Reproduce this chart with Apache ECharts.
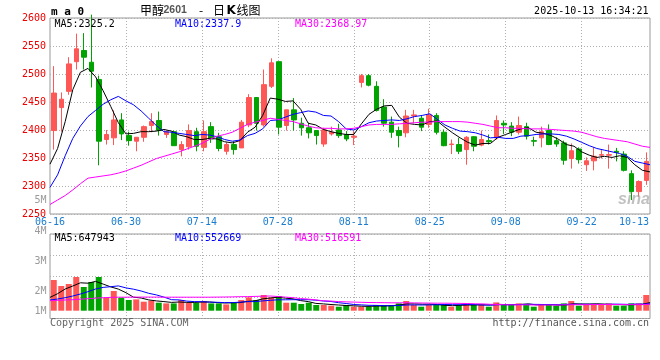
<!DOCTYPE html>
<html><head><meta charset="utf-8">
<script src="https://cdn.jsdelivr.net/npm/echarts@6/dist/echarts.min.js"></script>
<style>html,body{margin:0;padding:0;background:#fff}#c{width:660px;height:360px}</style>
</head><body><div id="c"></div>
<script>
const dates = ['06-16','06-17','06-18','06-19','06-20','06-23','06-24','06-25','06-26','06-27',
'06-30','07-01','07-02','07-03','07-04','07-07','07-08','07-09','07-10','07-11',
'07-14','07-15','07-16','07-17','07-18','07-21','07-22','07-23','07-24','07-25',
'07-28','07-29','07-30','07-31','08-01','08-04','08-05','08-06','08-07','08-08',
'08-11','08-12','08-13','08-14','08-15','08-18','08-19','08-20','08-21','08-22',
'08-25','08-26','08-27','08-28','08-29','09-01','09-02','09-03','09-04','09-05',
'09-08','09-09','09-10','09-11','09-12','09-15','09-16','09-17','09-18','09-19',
'09-22','09-23','09-24','09-25','09-26','09-29','09-30','10-09','10-10','10-13'];
const openP = [2399,2440,2469,2522,2542,2521,2490,2383,2386,2418,
2390,2380,2387,2408,2417,2392,2397,2365,2370,2397,
2369,2406,2388,2362,2374,2368,2409,2458,2409,2478,
2522,2408,2436,2412,2404,2399,2375,2393,2400,2392,
2387,2485,2497,2478,2441,2414,2399,2395,2425,2421,
2410,2426,2396,2374,2374,2365,2388,2373,2381,2386,
2412,2407,2396,2406,2381,2386,2399,2381,2377,2349,
2366,2338,2345,2355,2355,2362,2357,2322,2290,2310];
const closeP = [2466,2455,2518,2545,2530,2505,2380,2392,2418,2393,
2381,2387,2406,2415,2399,2397,2372,2374,2399,2371,
2397,2384,2367,2374,2365,2414,2458,2412,2481,2520,
2405,2436,2418,2404,2395,2390,2400,2396,2390,2384,
2389,2497,2480,2435,2412,2396,2390,2425,2427,2405,
2427,2396,2372,2375,2362,2387,2371,2383,2379,2417,
2409,2396,2408,2389,2380,2397,2374,2375,2346,2363,
2347,2345,2353,2356,2356,2360,2328,2290,2308,2344];
const lowP = [2365,2397,2463,2508,2508,2476,2337,2374,2373,2382,
2372,2362,2379,2396,2390,2386,2372,2353,2365,2362,
2362,2377,2362,2356,2356,2368,2405,2399,2406,2475,
2392,2399,2399,2390,2385,2374,2370,2390,2386,2380,
2373,2476,2478,2433,2406,2386,2369,2387,2412,2398,
2404,2392,2371,2357,2357,2338,2362,2371,2374,2383,
2393,2389,2392,2383,2371,2369,2373,2370,2338,2331,
2340,2327,2328,2349,2331,2344,2326,2275,2281,2302];
const highP = [2514,2467,2530,2572,2573,2606,2497,2400,2435,2430,
2397,2387,2408,2430,2433,2399,2399,2380,2410,2404,
2417,2414,2395,2378,2380,2418,2464,2458,2508,2528,
2522,2436,2457,2422,2413,2400,2404,2406,2411,2398,
2398,2500,2500,2487,2455,2424,2406,2436,2436,2426,
2438,2430,2401,2383,2386,2389,2389,2399,2392,2426,
2417,2414,2424,2413,2388,2406,2410,2387,2381,2376,
2369,2351,2369,2364,2374,2368,2362,2328,2310,2360];
const ma5 = [2339,2367,2415,2472,2503,2510,2495,2470,2442,2413,
2393,2394,2397,2397,2398,2401,2398,2391,2388,2383,
2383,2385,2384,2379,2377,2381,2396,2405,2426,2457,
2455,2451,2452,2437,2412,2409,2401,2397,2394,2392,
2392,2411,2428,2437,2443,2444,2423,2412,2410,2409,
2415,2416,2405,2395,2386,2378,2373,2376,2376,2387,
2392,2397,2402,2404,2396,2394,2390,2383,2374,2371,
2361,2355,2351,2353,2351,2354,2351,2338,2328,2325.2];
const ma10 = [2297.5,2320,2354,2385,2407,2424,2435,2446,2454,2460,
2452,2445,2434,2421,2408,2397,2396,2394,2392,2390,
2392,2391,2388,2383,2380,2382,2390,2394,2402,2417,
2418,2423,2428,2431,2434,2432,2426,2425,2415,2402,
2400,2406,2413,2416,2417,2418,2417,2420,2424,2426,
2429,2419,2409,2403,2398,2397,2395,2391,2386,2387,
2385,2385,2389,2390,2392,2393,2393,2392,2389,2384,
2378,2372,2367,2364,2361,2358,2353,2344,2341,2337.9];
const ma30 = [2267,2275,2283,2293,2304,2314,2316,2318,2320,2323,
2327,2332,2337,2343,2349,2353,2357,2361,2366,2371,
2376,2383,2389,2392,2396,2403,2410,2414,2417,2421,
2419,2417,2415,2411,2407,2404,2403,2403,2402,2402,
2403,2406,2409,2410,2410,2410,2411,2412,2413,2414,
2414,2415,2415,2415,2415,2414,2412,2410,2407,2404,
2404,2403,2403,2402,2402,2402,2401,2400,2399,2398,
2396,2392,2388,2385,2383,2381,2379,2375,2371,2368.97];
const volume = [2456000,1976000,2136000,2696000,1896000,2296000,2696000,1040000,1576000,1040000,
856000,904000,720000,800000,640000,584000,584000,856000,640000,640000,
776000,584000,584000,504000,696000,856000,1064000,856000,1256000,1064000,
1176000,640000,640000,536000,640000,456000,456000,400000,320000,456000,
320000,320000,320000,456000,456000,456000,584000,776000,456000,320000,
456000,456000,456000,320000,456000,584000,504000,504000,320000,664000,
456000,504000,584000,504000,320000,504000,504000,400000,584000,776000,
400000,504000,504000,456000,584000,400000,400000,584000,584000,1256000];
const volMa5 = [1064000,1360000,1736000,1976000,2232000,2200000,2344000,2128000,1904000,1728000,
1440000,1080000,1016000,864000,784000,728000,664000,696000,664000,664000,
696000,696000,648000,616000,632000,648000,744000,792000,944000,1016000,
1080000,1000000,952000,808000,728000,584000,544000,496000,456000,416000,
392000,360000,344000,376000,376000,400000,456000,544000,544000,520000,
520000,496000,432000,400000,432000,456000,464000,472000,472000,512000,
488000,488000,504000,544000,472000,480000,480000,448000,464000,552000,
536000,536000,552000,528000,488000,488000,472000,488000,512000,647943];
const volMa10 = [856000,936000,1040000,1176000,1336000,1520000,1736000,1864000,1920000,1984000,
1824000,1720000,1576000,1392000,1264000,1088000,880000,864000,768000,728000,
720000,688000,672000,648000,648000,680000,728000,728000,784000,832000,
872000,872000,880000,880000,880000,840000,776000,736000,640000,576000,
496000,464000,432000,424000,400000,400000,416000,456000,464000,456000,
464000,480000,496000,480000,480000,496000,488000,456000,440000,480000,
480000,480000,496000,512000,504000,496000,496000,480000,512000,520000,
512000,512000,504000,504000,528000,520000,504000,528000,528000,552669];
const volMa30 = [800000,824000,856000,880000,920000,960000,1000000,1040000,1064000,1080000,
1080000,1088000,1088000,1088000,1088000,1080000,1080000,1080000,1080000,1080000,
1080000,1080000,1088000,1096000,1104000,1120000,1128000,1144000,1160000,1176000,
1136000,1088000,1040000,968000,928000,864000,792000,768000,728000,708000,
688000,672000,656000,648000,640000,632000,632000,632000,624000,616000,
608000,600000,600000,592000,584000,576000,552000,544000,512000,496000,
472000,472000,472000,464000,456000,456000,456000,456000,472000,480000,
480000,488000,496000,496000,496000,496000,488000,484000,488000,516591];
const dateTickIdx = [0,10,20,30,40,50,60,70,79];
const volTickLabels = ['5M','4M','3M','2M','1M'];
const titleParts = ['甲醇','2601','-','日','K','线图'];
const stamp = '2025-10-13 16:34:21';

const chart = echarts.init(document.getElementById('c'), null, {renderer:'canvas', width:660, height:360});
const MONO = '"DejaVu Sans Mono", monospace';
const UP = '#ff5656', DOWN = '#00a300';
const last = a => a[a.length - 1];
const candleData = dates.map((d, i) => [openP[i], closeP[i], lowP[i], highP[i]]);
const volData = volume.map((v, i) => ({value: v, itemStyle: {color: closeP[i] >= openP[i] ? UP : DOWN}}));
const dotted = {color: '#b0b0b0', type: [1, 2], width: 1};
const inner = i => i % 10 === 0 && i > 0 && i < dates.length - 1;

const T = (text, x, y, fill, font, align) => ({
  type: 'text', silent: true, z: 100,
  style: {text, x, y, fill, font, align: align || 'left', verticalAlign: 'middle',
          textAlign: align || 'left', textVerticalAlign: 'middle'}
});
const CJK = '"Noto Sans CJK SC"';
const volLabelY = [200, 231, 261, 291, 311];

const graphics = [
  T('m a 0', 51, 12, '#000', 'bold 11px ' + MONO),
  T(titleParts[0], 140, 10.5, '#000', '12px ' + CJK),
  T(titleParts[1], 163.5, 10.5, '#555', 'bold 10.5px "Liberation Sans"'),
  T(titleParts[2], 199, 10.5, '#000', '12px ' + CJK),
  T(titleParts[3], 213, 10.5, '#000', '12px ' + CJK),
  T(titleParts[4], 226.5, 10.5, '#000', 'bold 12px "DejaVu Sans"'),
  T(titleParts[5], 236.5, 10.5, '#000', '12px ' + CJK),
  T(stamp, 648.5, 11.5, '#000', '10px ' + MONO, 'right'),
  T('MA5:' + last(ma5), 54.5, 24, '#000', '10px ' + MONO),
  T('MA10:' + last(ma10), 175, 24, '#0000ff', '10px ' + MONO),
  T('MA30:' + last(ma30), 295, 24, '#ff00ff', '10px ' + MONO),
  T('MA5:' + last(volMa5), 54.5, 238.5, '#000', '10px ' + MONO),
  T('MA10:' + last(volMa10), 175, 238.5, '#0000ff', '10px ' + MONO),
  T('MA30:' + last(volMa30), 295, 238.5, '#ff00ff', '10px ' + MONO),
  T('Copyright 2025 SINA.COM', 50, 323, '#666', '10px ' + MONO),
  T('http://finance.sina.com.cn', 649, 323, '#555', '10px ' + MONO, 'right'),
  T('sina', 618, 200, 'rgba(150,150,150,0.6)', 'italic bold 16px "Liberation Sans"')
];
volTickLabels.forEach((t, k) => graphics.push(T(t, 46.5, volLabelY[k], '#9a9a9a', '10px ' + MONO, 'right')));

const option = {
  animation: false,
  backgroundColor: '#fff',
  textStyle: {fontFamily: MONO},
  grid: [
    {left: 50, top: 18, width: 600, height: 196, show: true, borderColor: '#999', borderWidth: 1, backgroundColor: 'transparent', outerBoundsMode: 'none'},
    {left: 50, top: 234, width: 600, height: 84.5, show: true, borderColor: '#999', borderWidth: 1, backgroundColor: 'transparent', outerBoundsMode: 'none'}
  ],
  xAxis: [
    {gridIndex: 0, type: 'category', position: 'bottom', data: dates, boundaryGap: true, show: false},
    {gridIndex: 0, type: 'category', position: 'bottom', offset: 0, data: dates, boundaryGap: false,
     axisLine: {show: false, onZero: false}, axisTick: {show: false},
     axisLabel: {show: true, interval: i => dateTickIdx.includes(i), color: '#1a7dd0', fontFamily: MONO, fontSize: 10, margin: 3,
       formatter: (v, i) => i === dates.length - 1 ? '{r|' + v + '}' : v,
       rich: {r: {padding: [0, 32, 0, 0], color: '#1a7dd0', fontFamily: MONO, fontSize: 10}}},
     splitLine: {show: true, interval: inner, lineStyle: dotted}},
    {gridIndex: 1, type: 'category', position: 'bottom', data: dates, boundaryGap: true, show: false},
    {gridIndex: 1, type: 'category', position: 'bottom', data: dates, boundaryGap: false,
     axisLine: {show: false, onZero: false}, axisTick: {show: false}, axisLabel: {show: false},
     splitLine: {show: true, interval: inner, lineStyle: dotted}}
  ],
  yAxis: [
    {gridIndex: 0, type: 'value', min: 2250, max: 2600, interval: 50,
     axisLine: {show: false}, axisTick: {show: false},
     axisLabel: {color: '#ee0000', fontFamily: MONO, fontSize: 10, margin: 4, padding: [0, 0, 4, 0], formatter: v => String(v)},
     splitLine: {show: true, lineStyle: dotted}},
    {gridIndex: 1, type: 'value', min: -624000, max: 6136000, show: false},
    {gridIndex: 1, type: 'value', min: 0, max: 4, interval: 1,
     axisLine: {show: false}, axisTick: {show: false}, axisLabel: {show: false},
     splitLine: {show: true, lineStyle: dotted}}
  ],
  series: [
    {type: 'candlestick', xAxisIndex: 0, yAxisIndex: 0, data: candleData, barWidth: 5, clip: false,
     itemStyle: {color: UP, color0: DOWN, borderColor: UP, borderColor0: DOWN, borderWidth: 1}},
    {type: 'line', xAxisIndex: 1, yAxisIndex: 0, data: ma5, showSymbol: false, symbol: 'none', lineStyle: {color: '#000', width: 1}, z: 5},
    {type: 'line', xAxisIndex: 1, yAxisIndex: 0, data: ma10, showSymbol: false, symbol: 'none', lineStyle: {color: '#0000ff', width: 1}, z: 5},
    {type: 'line', xAxisIndex: 1, yAxisIndex: 0, data: ma30, showSymbol: false, symbol: 'none', lineStyle: {color: '#ff00ff', width: 1}, z: 5},
    {type: 'bar', xAxisIndex: 2, yAxisIndex: 1, data: volData, barWidth: 6},
    {type: 'line', xAxisIndex: 3, yAxisIndex: 1, data: volMa5, showSymbol: false, symbol: 'none', lineStyle: {color: '#000', width: 1}, z: 5},
    {type: 'line', xAxisIndex: 3, yAxisIndex: 1, data: volMa10, showSymbol: false, symbol: 'none', lineStyle: {color: '#0000ff', width: 1}, z: 5},
    {type: 'line', xAxisIndex: 3, yAxisIndex: 1, data: volMa30, showSymbol: false, symbol: 'none', lineStyle: {color: '#ff00ff', width: 1}, z: 5}
  ],
  graphic: graphics
};
chart.setOption(option);
</script>
</body></html>
